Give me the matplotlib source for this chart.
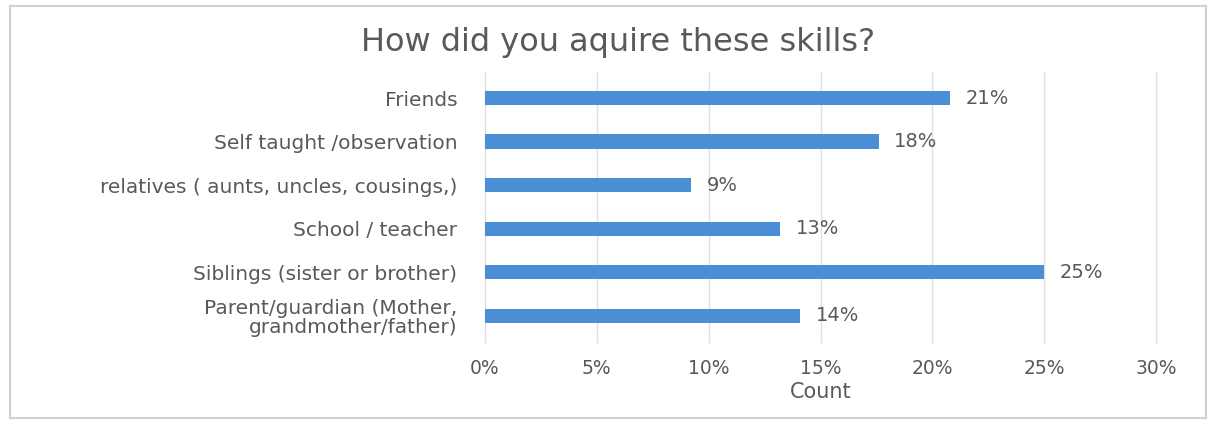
import matplotlib.pyplot as plt
from matplotlib.patches import Rectangle

plt.rcParams['font.family'] = ['DejaVu Sans']

sources = ["Friends", "Self taught /observation", "relatives ( aunts, uncles, cousings,)",
           "School / teacher", "Siblings (sister or brother)",
           "Parent/guardian (Mother,\ngrandmother/father)"]
shares = [20.8, 17.6, 9.2, 13.2, 25.0, 14.1]
xticks = [0, 5, 10, 15, 20, 25, 30]

bar_color = "#4a8fd6"
text_color = "#595959"

fig = plt.figure(figsize=(12.11, 4.21), dpi=100)
ax = fig.add_axes([0.4005, 0.188, 0.5541, 0.641])

pos = list(range(len(sources)))
ax.barh(pos, shares, height=0.33, color=bar_color, zorder=3)
for p, v in zip(pos, shares):
    ax.text(v + 0.7, p, "{:.0f}%".format(v), va="center", ha="left",
            fontsize=14, color=text_color)

ax.set_yticks(pos)
ax.set_yticklabels(sources, fontsize=14.5, color=text_color, linespacing=1.0)
ax.set_ylim(5.6, -0.6)
ax.set_xlim(0, 30)
ax.set_xticks(xticks)
ax.set_xticklabels(["{}%".format(t) for t in xticks], fontsize=13.5, color=text_color)
ax.tick_params(axis="y", length=0, pad=20)
ax.tick_params(axis="x", length=0, pad=12)
ax.set_xlabel("Count", fontsize=15, color=text_color, labelpad=3)
ax.grid(axis="x", color="#e0e0e0", linewidth=1, zorder=0)
for line in ax.get_xgridlines():
    line.set_clip_on(False)
for s in ax.spines.values():
    s.set_visible(False)

fig.text(0.51, 0.90, "How did you aquire these skills?", ha="center", va="center",
         fontsize=23, color=text_color)

fig.patches.append(Rectangle((0.008, 0.008), 0.988, 0.978, transform=fig.transFigure,
                             fill=False, edgecolor="#d0d0d0", linewidth=1.5))

fig.savefig("out.png", dpi=100)
